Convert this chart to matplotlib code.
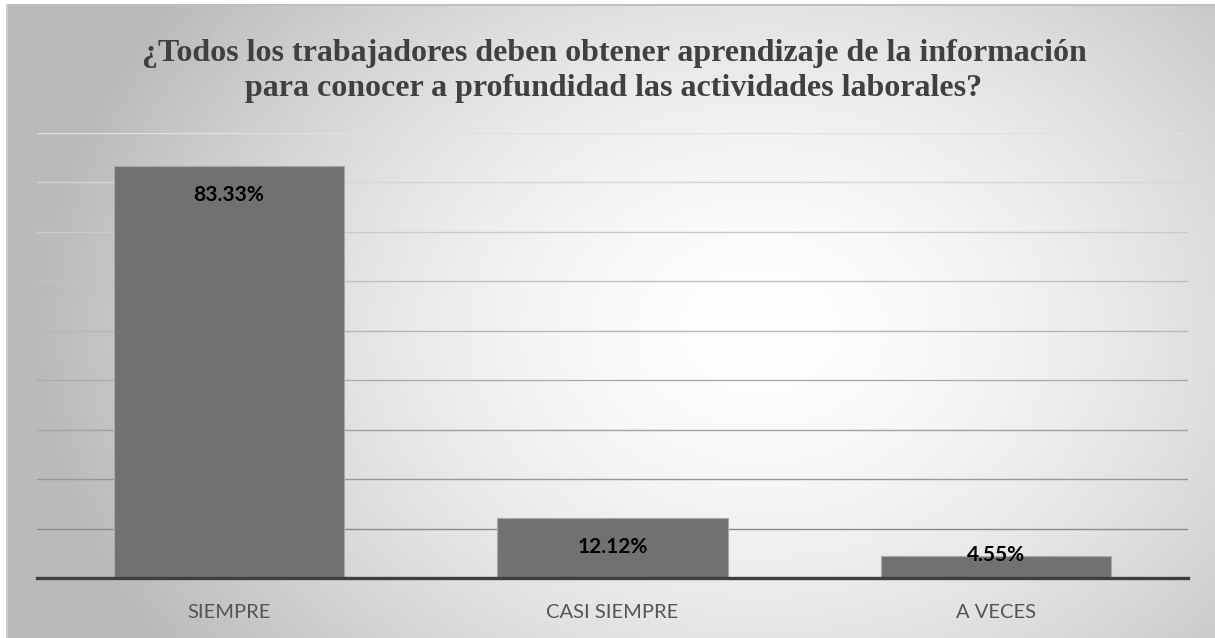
import numpy as np
import matplotlib
matplotlib.use("Agg")
from matplotlib import pyplot as plt

categorias = ["SIEMPRE", "CASI SIEMPRE", "A VECES"]
porcentajes = [83.33, 12.12, 4.55]
etiquetas = ["83.33%", "12.12%", "4.55%"]
titulo = ("¿Todos los trabajadores deben obtener aprendizaje de la información\n"
          "para conocer a profundidad las actividades laborales?")

W, H = 1215, 638
fig = plt.figure(figsize=(W / 100, H / 100), dpi=100)

# fondo con degradado radial (como el grafico de Excel)
bg = fig.add_axes([0, 0, 1, 1])
yy, xx = np.mgrid[0:H, 0:W]
r = np.sqrt(((xx - 760) / 720.0) ** 2 + ((yy - 330) / 560.0) ** 2)
r = np.clip(r, 0, 1)
shade = 1.0 - 0.27 * r ** 1.6
img = np.dstack([shade, shade, shade])
# margen blanco a la izquierda y arriba
img[:, :7] = 1.0
img[:5, :] = 1.0
img[4:6, 7:] = 0.75
img[5:, 6:8] = 0.8
bg.imshow(img, extent=[0, W, H, 0], aspect="auto", interpolation="bilinear")
bg.set_xlim(0, W)
bg.set_ylim(H, 0)
bg.axis("off")

ax = fig.add_axes([37 / W, 1 - 578 / H, (1188 - 37) / W, (578 - 133) / H])
ax.patch.set_alpha(0)
x = np.arange(len(categorias))
ax.set_xlim(-0.5, len(categorias) - 0.5)
ax.set_ylim(0, 90)

# lineas de cuadricula (mas claras arriba, mas oscuras abajo)
for k, g in enumerate(range(10, 100, 10)):
    c = 0.55 + 0.33 * (k / 8.0)
    ax.axhline(g, color=(c, c, c), lw=1.0, zorder=1)

ax.bar(x, porcentajes, width=0.6, color="#717171", edgecolor="#a8a8a8",
       linewidth=0.8, zorder=2)
ax.axhline(0, color="#3f3f3f", lw=2.4, zorder=3, clip_on=False)

for xi, v, lab in zip(x, porcentajes, etiquetas):
    yl = v - 5.8 if v > 10 else v + 0.2
    ax.text(xi, yl, lab, ha="center", va="center", fontsize=15,
            fontweight="bold", family="Lato", color="black", zorder=4)

ax.set_xticks(x)
ax.set_xticklabels(categorias, fontsize=14.5, family="Lato", color="#555555")
ax.tick_params(axis="x", length=0, pad=19)
ax.set_yticks([])
for s in ax.spines.values():
    s.set_visible(False)

fig.text(614 / W, 1 - 71 / H, titulo, ha="center", va="center",
         fontsize=23, fontweight="bold", family="Liberation Serif",
         color="#404040", linespacing=1.27)

fig.savefig("out.png", dpi=100)
